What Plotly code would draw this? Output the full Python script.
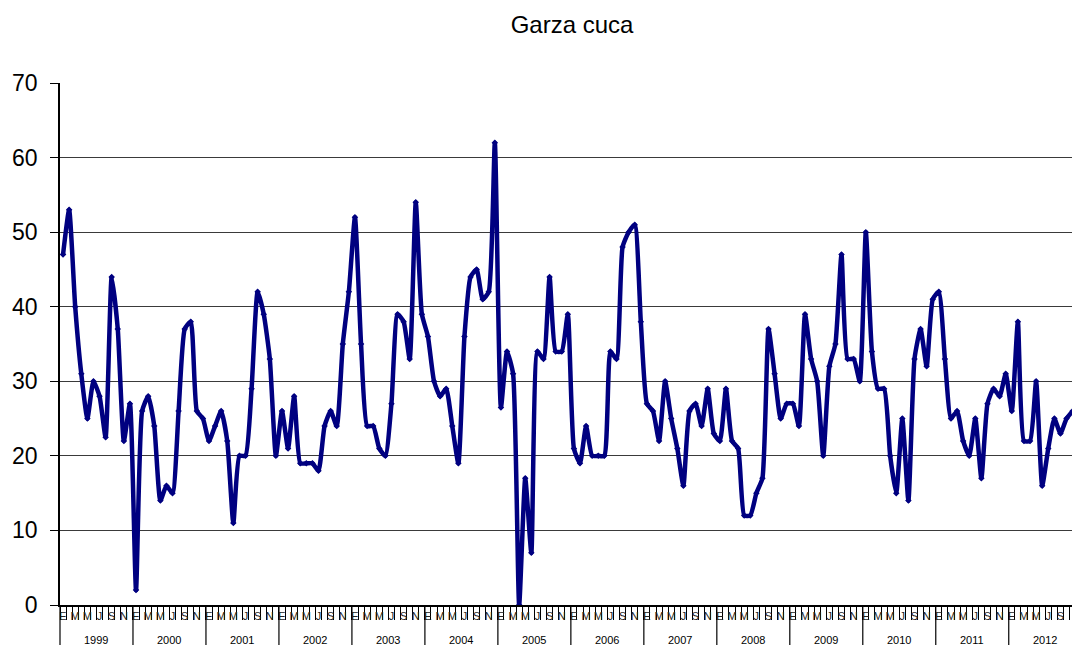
import plotly.graph_objects as go

title_text = "Garza cuca"
years = [str(y) for y in range(1999, 2013)]
month_letters = ["E", "M", "M", "J", "S", "N"]  # shown at Jan, Mar, May, Jul, Sep, Nov

v1999 = [47, 53, 40, 31, 25, 30, 28, 22.5, 44, 37, 22, 27]
v2000 = [2, 26, 28, 24, 14, 16, 15, 26, 37, 38, 26, 25]
v2001 = [22, 24, 26, 22, 11, 20, 20, 29, 42, 39, 33, 20]
v2002 = [26, 21, 28, 19, 19, 19, 18, 24, 26, 24, 35, 42]
v2003 = [52, 35, 24, 24, 21, 20, 27, 39, 38, 33, 54, 39]
v2004 = [36, 30, 28, 29, 24, 19, 36, 44, 45, 41, 42, 62]
v2005 = [26.5, 34, 31, 0, 17, 7, 34, 33, 44, 34, 34, 39]
v2006 = [21, 19, 24, 20, 20, 20, 34, 33, 48, 50, 51, 38]
v2007 = [27, 26, 22, 30, 25, 21, 16, 26, 27, 24, 29, 23]
v2008 = [22, 29, 22, 21, 12, 12, 15, 17, 37, 31, 25, 27]
v2009 = [27, 24, 39, 33, 30, 20, 32, 35, 47, 33, 33, 30]
v2010 = [50, 34, 29, 29, 20, 15, 25, 14, 33, 37, 32, 41]
v2011 = [42, 33, 25, 26, 22, 20, 25, 17, 27, 29, 28, 31]
v2012 = [26, 38, 22, 22, 30, 16, 21, 25, 23, 25, 26]

values = (v1999 + v2000 + v2001 + v2002 + v2003 + v2004 + v2005 + v2006 +
          v2007 + v2008 + v2009 + v2010 + v2011 + v2012)
idx = list(range(len(values)))

XMIN, XMAX = -0.5, 165.9
PLOT_H = 645 - 83 - 40

fig = go.Figure()
fig.add_trace(go.Scatter(
    x=idx, y=values, mode="lines+markers",
    line=dict(color="#000080", width=4.5, shape="spline", smoothing=0.5),
    marker=dict(color="#000080", size=5, symbol="diamond"),
    showlegend=False, cliponaxis=True,
))

# month label positions
tickvals, ticktext = [], []
for yi in range(len(years)):
    for k, lab in enumerate(month_letters):
        tickvals.append(yi * 12 + k * 2)
        ticktext.append(lab)

shapes, annotations = [], []
def to_paper(x):
    return (x - XMIN) / (XMAX - XMIN)

for yi, yr in enumerate(years):
    xb = yi * 12 - 0.5
    if XMIN - 1e-9 <= xb <= XMAX:
        shapes.append(dict(type="line", xref="paper", yref="paper",
                           x0=to_paper(xb), x1=to_paper(xb), y0=0, y1=-40 / PLOT_H,
                           line=dict(color="black", width=1.2)))
    annotations.append(dict(x=yi * 12 + 5.5, y=-35 / PLOT_H, xref="x", yref="paper",
                            text=yr, showarrow=False, yanchor="middle",
                            font=dict(size=11, color="black", family="Liberation Sans, Arial")))

fig.update_layout(
    width=1072, height=645, autosize=False,
    margin=dict(l=60, r=0, t=83, b=40),
    paper_bgcolor="white", plot_bgcolor="white",
    font=dict(family="Liberation Sans, Arial, sans-serif", color="black"),
    title=dict(text=title_text, x=572 / 1072, xanchor="center", xref="container",
               y=1 - 25 / 645, yanchor="middle",
               font=dict(size=24, color="black", family="Liberation Sans, Arial")),
    xaxis=dict(range=[XMIN, XMAX], tickmode="array", tickvals=tickvals, ticktext=ticktext,
               ticks="", tickangle=0, tickfont=dict(size=11, color="#222"),
               showgrid=False, zeroline=False, showline=True, linecolor="black", linewidth=1.5,
               minor=dict(ticks="outside", ticklen=13, tick0=-0.5, dtick=1,
                          tickcolor="black", tickwidth=1, showgrid=False)),
    yaxis=dict(range=[0, 70], tickmode="linear", tick0=0, dtick=10,
               ticks="outside", ticklen=8, tickcolor="black", tickwidth=1.2,
               ticklabelstandoff=8,
               tickfont=dict(size=23, color="black"),
               showgrid=True, gridcolor="#3a3a3a", gridwidth=1.3,
               zeroline=False, showline=True, linecolor="black", linewidth=1.5),
    shapes=shapes, annotations=annotations,
)

fig.write_html("out.html", config={"displayModeBar": False},
               post_script="document.body.style.margin='0';document.body.style.overflow='hidden';")
